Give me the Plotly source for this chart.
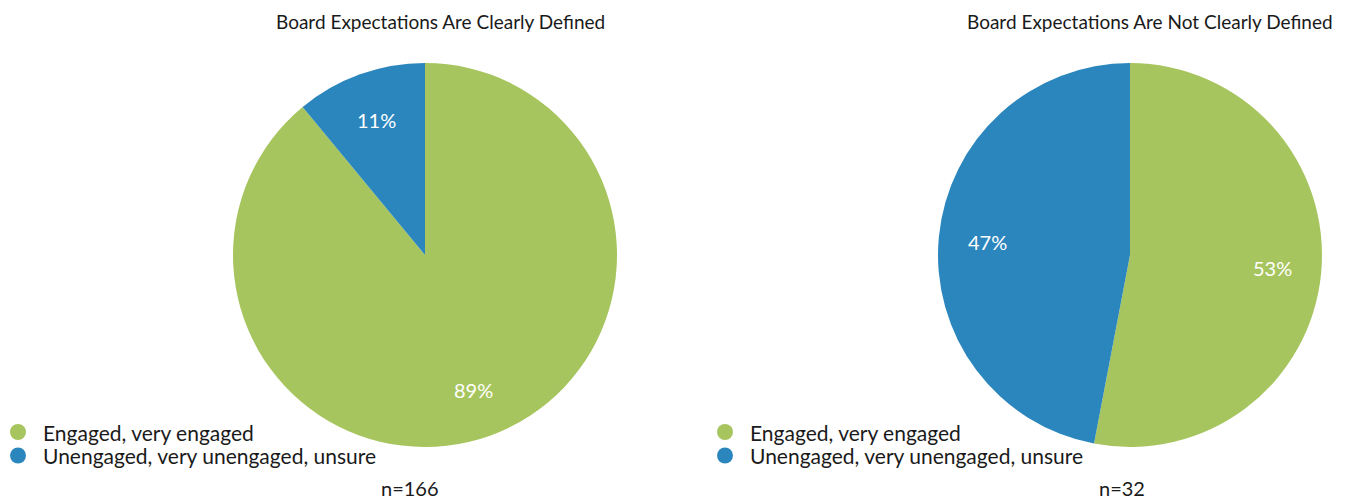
import math
import plotly.graph_objects as go

# Survey data
categories = ["Engaged, very engaged", "Unengaged, very unengaged, unsure"]
clear_values = [89, 11]
not_clear_values = [53, 47]
chart_titles = ["Board Expectations Are Clearly Defined",
                "Board Expectations Are Not Clearly Defined"]
sample_sizes = ["n=166", "n=32"]

colors = ["#A7C55E", "#2B86BD"]
FONT = "Lato, 'Open Sans', sans-serif"
W, H = 1357, 502

# pie centers / radius in pixels
pies = [
    dict(values=clear_values, cx=425, cy=255, title=chart_titles[0], tx=441,
         n=sample_sizes[0], nx=410, lx=18),
    dict(values=not_clear_values, cx=1130, cy=255, title=chart_titles[1], tx=1150,
         n=sample_sizes[1], nx=1122, lx=725),
]
R = 192

fig = go.Figure()
annotations = []
shapes = []

for p in pies:
    x0, x1 = (p["cx"] - R) / W, (p["cx"] + R) / W
    y0, y1 = (H - p["cy"] - R) / H, (H - p["cy"] + R) / H
    fig.add_trace(go.Pie(
        labels=categories, values=p["values"], sort=False,
        direction="clockwise", rotation=0,
        marker=dict(colors=colors, line=dict(width=0)),
        textinfo="none", hoverinfo="label+percent",
        showlegend=False,
        domain=dict(x=[x0, x1], y=[y0, y1]),
    ))
    # percentage labels placed at the middle angle of each slice
    total = sum(p["values"])
    start = 0.0
    for v in p["values"]:
        mid = (start + v / 2) / total * 2 * math.pi
        start += v
        px = p["cx"] + 0.745 * R * math.sin(mid)
        py = p["cy"] - 0.745 * R * math.cos(mid)
        annotations.append(dict(
            x=px / W, y=1 - py / H, xref="paper", yref="paper",
            text=f"{round(v / total * 100)}%", showarrow=False,
            xanchor="center", yanchor="middle",
            font=dict(family=FONT, size=20, color="white"),
        ))
    # title
    annotations.append(dict(
        x=p["tx"] / W, y=1 - 22 / H, xref="paper", yref="paper",
        text=p["title"], showarrow=False, xanchor="center", yanchor="middle",
        font=dict(family=FONT, size=19, color="#1a1a1a"),
    ))
    # sample size
    annotations.append(dict(
        x=p["nx"] / W, y=1 - 488 / H, xref="paper", yref="paper",
        text=p["n"], showarrow=False, xanchor="center", yanchor="middle",
        font=dict(family=FONT, size=20, color="#1a1a1a"),
    ))
    # legend: circle markers + labels
    for i, (cat, col) in enumerate(zip(categories, colors)):
        ly = 432 + 23.5 * i
        shapes.append(dict(
            type="circle", xref="paper", yref="paper",
            xsizemode="pixel", ysizemode="pixel",
            xanchor=p["lx"] / W, yanchor=1 - ly / H,
            x0=-8, x1=8, y0=-8, y1=8,
            fillcolor=col, line=dict(width=0),
        ))
        annotations.append(dict(
            x=(p["lx"] + 23) / W, y=1 - ly / H, xref="paper", yref="paper",
            text=cat, showarrow=False, xanchor="left", yanchor="middle",
            font=dict(family=FONT, size=21, color="#1a1a1a"),
        ))

fig.update_layout(
    width=W, height=H,
    margin=dict(l=0, r=0, t=0, b=0),
    paper_bgcolor="white", plot_bgcolor="white",
    annotations=annotations, shapes=shapes,
    showlegend=False,
)

fig.write_html("out.html")
